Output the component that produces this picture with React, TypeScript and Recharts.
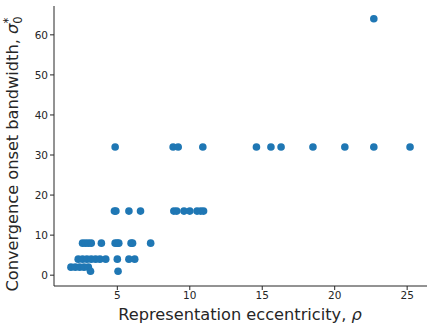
import React from 'react'
import { ScatterChart, Scatter, XAxis, YAxis } from 'recharts'

// eccentricity (rho) values, grouped by onset bandwidth level
const onsetLevels = [64, 32, 16, 8, 4, 2, 1]
const rhoAt64 = [22.7]
const rhoAt32 = [4.85, 8.85, 9.2, 10.9, 14.6, 15.6, 16.3, 18.5, 20.7, 22.7, 25.2]
const rhoAt16 = [4.8, 4.9, 5.8, 6.6, 8.9, 9.1, 9.6, 10.0, 10.5, 10.75, 10.95]
const rhoAt8 = [2.6, 2.8, 3.0, 3.2, 3.9, 4.85, 5.0, 5.1, 5.95, 6.05, 7.3]
const rhoAt4 = [2.3, 2.6, 2.9, 3.2, 3.5, 3.8, 4.2, 5.0, 5.8, 6.2]
const rhoAt2 = [1.8, 2.1, 2.4, 2.7, 3.0]
const rhoAt1 = [3.15, 5.05]

const xTicks = [5, 10, 15, 20, 25]
const yTicks = [0, 10, 20, 30, 40, 50, 60]

const rhoGroups = [rhoAt64, rhoAt32, rhoAt16, rhoAt8, rhoAt4, rhoAt2, rhoAt1]

const points = rhoGroups.flatMap((group, i) =>
  group.map((rho) => ({ rho, sigma: onsetLevels[i] }))
)

const FONT = '"DejaVu Sans", sans-serif'
const INK = '#262626'
const LABEL_SIZE = 16.2

const YLabel = () => (
  <text
    x={18}
    y={154}
    transform="rotate(-90 18 154)"
    textAnchor="middle"
    fontFamily={FONT}
    fontSize={LABEL_SIZE}
    fill={INK}
  >
    Convergence onset bandwidth,{' '}
    <tspan fontStyle="italic">σ</tspan>
    <tspan fontSize={11.5} dy={4}>0</tspan>
    <tspan fontSize={11.5} dy={-10} dx={-7}>*</tspan>
  </text>
)

const XLabel = () => (
  <text
    x={240}
    y={320}
    textAnchor="middle"
    fontFamily={FONT}
    fontSize={LABEL_SIZE}
    fill={INK}
  >
    Representation eccentricity, <tspan fontStyle="italic">ρ</tspan>
  </text>
)

export default function App() {
  return (
    <div style={{ position: 'absolute', left: 0, top: 0, width: 428, height: 328, background: '#fff' }}>
      <ScatterChart width={428} height={328} margin={{ top: 6, right: 1, bottom: 0, left: 0 }}>
        <XAxis
          type="number"
          dataKey="rho"
          domain={[0.63, 26.37]}
          ticks={xTicks}
          allowDataOverflow
          height={42}
          tickSize={4}
          tickLine={{ stroke: INK }}
          axisLine={{ stroke: INK }}
          tick={{ fill: INK, fontSize: 10.5, fontFamily: FONT }}
          label={<XLabel />}
        />
        <XAxis
          xAxisId="top"
          orientation="top"
          type="number"
          domain={[0.63, 26.37]}
          height={0}
          tick={false}
          tickLine={false}
          axisLine={{ stroke: INK }}
        />
        <YAxis
          type="number"
          dataKey="sigma"
          domain={[-2.7, 67.2]}
          ticks={yTicks}
          allowDataOverflow
          width={54}
          tickSize={4}
          tickLine={{ stroke: INK }}
          axisLine={{ stroke: INK }}
          tick={{ fill: INK, fontSize: 10.5, fontFamily: FONT }}
          label={<YLabel />}
        />
        <YAxis
          yAxisId="right"
          orientation="right"
          type="number"
          domain={[-2.7, 67.2]}
          width={0}
          tick={false}
          tickLine={false}
          axisLine={{ stroke: INK }}
        />
        <Scatter
          data={points}
          fill="#1f77b4"
          isAnimationActive={false}
          shape={(p: any) => <circle cx={p.cx} cy={p.cy} r={3.8} fill="#1f77b4" />}
        />
      </ScatterChart>
    </div>
  )
}
